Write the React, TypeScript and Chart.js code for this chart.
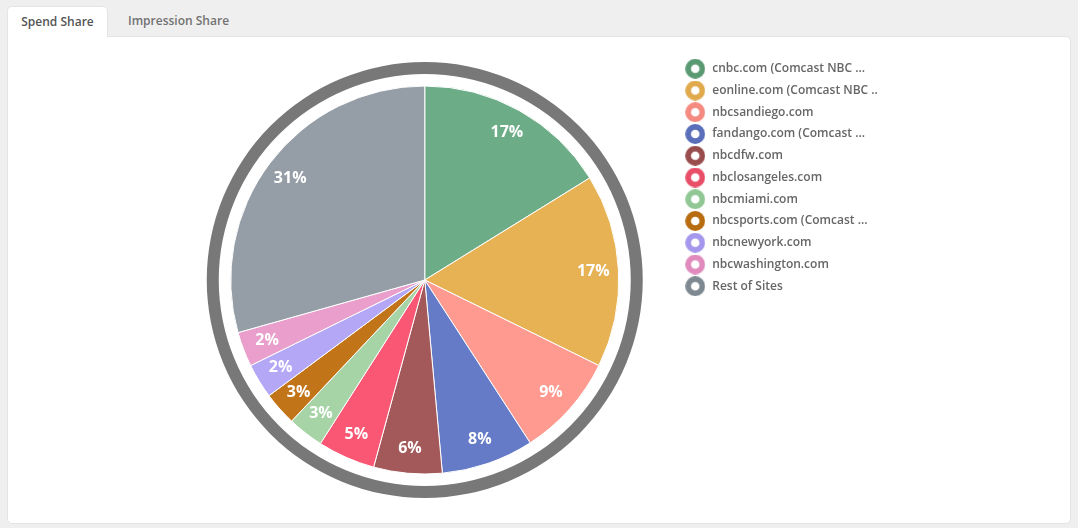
import React, { useEffect, useRef } from "react";
import { Chart, registerables } from "chart.js";

Chart.register(...registerables);

const siteLabels = [
  "cnbc.com (Comcast NBC ...",
  "eonline.com (Comcast NBC ..",
  "nbcsandiego.com",
  "fandango.com (Comcast ...",
  "nbcdfw.com",
  "nbclosangeles.com",
  "nbcmiami.com",
  "nbcsports.com (Comcast ...",
  "nbcnewyork.com",
  "nbcwashington.com",
  "Rest of Sites",
];
const spendShare = [16.2, 16.1, 8.6, 7.7, 5.7, 4.8, 3.0, 2.8, 2.9, 2.9, 29.4];
const shareLabels = ["17%", "17%", "9%", "8%", "6%", "5%", "3%", "3%", "2%", "2%", "31%"];
const sliceColors = [
  "#6cac87", "#e6b254", "#ff9a91", "#657bc7", "#a35959", "#f95773",
  "#a6d4a6", "#c27418", "#b3a7f6", "#e99ecc", "#959da6",
];
const legendColors = [
  "#5a9a73", "#e0a94b", "#f58a80", "#5a6eba", "#994c4c", "#e84e67",
  "#90c795", "#b86c10", "#a497ec", "#e08abd", "#7e8891",
];
const ringColor = "#787878";
const tabLabels = ["Spend Share", "Impression Share"];

const FONT = "'Open Sans', sans-serif";

function makeRing(color: string) {
  const c = document.createElement("canvas");
  c.width = 20;
  c.height = 20;
  const ctx = c.getContext("2d")!;
  ctx.beginPath();
  ctx.arc(10, 10, 7.1, 0, Math.PI * 2);
  ctx.fillStyle = "#fff";
  ctx.fill();
  ctx.lineWidth = 5.6;
  ctx.strokeStyle = color;
  ctx.stroke();
  return c;
}

const pctLabelPlugin = {
  id: "pctLabels",
  afterDatasetsDraw(chart: any) {
    const meta = chart.getDatasetMeta(2);
    const ctx = chart.ctx;
    ctx.save();
    ctx.font = "700 16px " + FONT;
    ctx.fillStyle = "#ffffff";
    ctx.textAlign = "center";
    ctx.textBaseline = "middle";
    meta.data.forEach((arc: any, i: number) => {
      const { x, y, startAngle, endAngle, outerRadius } = arc.getProps(
        ["x", "y", "startAngle", "endAngle", "outerRadius"],
        true
      );
      const mid = (startAngle + endAngle) / 2;
      const r = outerRadius * 0.87;
      ctx.fillText(shareLabels[i], x + Math.cos(mid) * r, y + Math.sin(mid) * r);
    });
    ctx.restore();
  },
};

export default function App() {
  const ref = useRef<HTMLCanvasElement | null>(null);

  useEffect(() => {
    if (!ref.current) return;
    const rings = legendColors.map(makeRing);
    const chart = new Chart(ref.current, {
      type: "pie",
      data: {
        labels: siteLabels,
        datasets: [
          { data: [1], backgroundColor: [ringColor], borderWidth: 0, weight: 12 } as any,
          { data: [1], backgroundColor: ["rgba(0,0,0,0)"], borderWidth: 0, weight: 12 } as any,
          {
            data: spendShare,
            backgroundColor: sliceColors,
            borderColor: "#ffffff",
            borderWidth: 1,
            hoverBorderWidth: 1,
            weight: 194,
          } as any,
        ],
      },
      options: {
        responsive: false,
        animation: false,
        events: [],
        radius: 218,
        layout: { padding: { left: 168, right: 180, top: 15, bottom: 16 } },
        plugins: {
          tooltip: { enabled: false },
          legend: {
            position: "right",
            align: "start",
            labels: {
              usePointStyle: true,
              pointStyleWidth: 22,
              boxHeight: 12,
              padding: 9.75,
              color: "#666666",
              font: { size: 12, weight: "600", family: FONT },
              generateLabels: () =>
                siteLabels.map((t, i) => ({
                  text: t,
                  pointStyle: rings[i] as any,
                  fillStyle: legendColors[i],
                  strokeStyle: legendColors[i],
                  lineWidth: 0,
                  hidden: false,
                  index: i,
                  datasetIndex: 2,
                  fontColor: "#666666",
                })),
            },
          },
        },
      } as any,
      plugins: [pctLabelPlugin],
    });
    const lw = (chart as any).legend.width;
    (chart.options as any).layout.padding = { left: 168, right: 1064 - 667.5 - lw, top: 15, bottom: 16 };
    chart.update();
    return () => chart.destroy();
  }, []);

  return (
    <div
      style={{
        position: "fixed",
        left: 0,
        top: 0,
        width: 1078,
        height: 528,
        background: "#efefef",
        fontFamily: FONT,
      }}
    >
      <div
        style={{
          position: "absolute",
          left: 7,
          top: 36,
          width: 1064,
          height: 488,
          boxSizing: "border-box",
          background: "#fff",
          border: "1px solid #e4e4e4",
          borderRadius: "0 5px 5px 5px",
        }}
      />
      <div
        style={{
          position: "absolute",
          left: 7,
          top: 6,
          width: 101,
          height: 31,
          boxSizing: "border-box",
          background: "#fff",
          border: "1px solid #e4e4e4",
          borderBottom: "none",
          borderRadius: "5px 5px 0 0",
          zIndex: 2,
          textAlign: "center",
          lineHeight: "29px",
          fontSize: 12,
          fontWeight: 600,
          color: "#555",
        }}
      >
        {tabLabels[0]}
      </div>
      <div
        style={{
          position: "absolute",
          left: 128,
          top: 6,
          lineHeight: "29px",
          fontSize: 12,
          fontWeight: 600,
          color: "#727272",
        }}
      >
        {tabLabels[1]}
      </div>
      <div style={{ position: "absolute", left: 7, top: 38, width: 1064, height: 485, zIndex: 3 }}>
        <canvas ref={ref} width={1064} height={485} style={{ display: "block" }} />
      </div>
    </div>
  );
}
